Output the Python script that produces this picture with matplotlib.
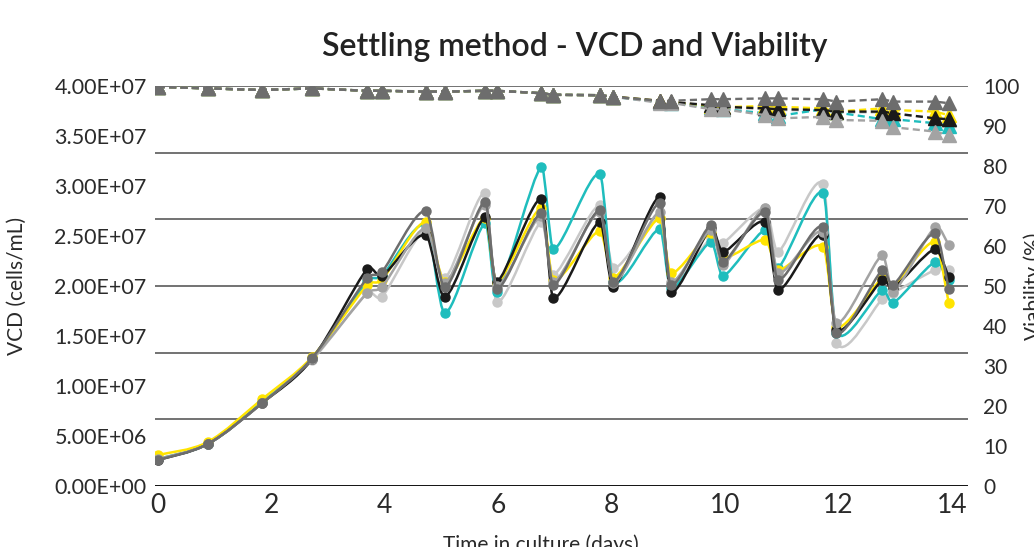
import numpy as np
import matplotlib
matplotlib.use("Agg")
import matplotlib.pyplot as plt
from matplotlib.path import Path
from matplotlib.patches import PathPatch
from matplotlib.ticker import FuncFormatter

plt.rcParams['font.family'] = ['Lato', 'DejaVu Sans']

# sampling times (days), pre/post settling pairs
days = [0, 0.88, 1.84, 2.72, 3.69, 3.95, 4.72, 5.06, 5.77, 5.97, 6.76, 6.97, 7.79, 8.03,
        8.85, 9.04, 9.75, 9.96, 10.71, 10.93, 11.73, 11.96, 12.77, 12.96, 13.70, 13.94]

# VCD in millions of cells/mL
vcd_lightgray = [2.7, 4.2, 8.3, 12.6, 19.3, 18.9, 25.6, 20.8, 29.3, 18.4, 26.4, 21.1, 28.1,
                 21.8, 26.8, 20.2, 24.8, 24.3, 27.8, 23.4, 30.2, 14.3, 18.7, 19.3, 21.6, 21.6]
vcd_teal = [2.7, 4.2, 8.4, 12.8, 20.5, 21.0, 26.1, 17.3, 26.3, 19.4, 31.9, 23.7, 31.2,
            20.4, 25.7, 19.8, 24.4, 21.0, 25.6, 21.8, 29.3, 15.3, 19.6, 18.3, 22.4, 20.6]
vcd_yellow = [3.1, 4.4, 8.7, 12.9, 20.1, 20.6, 26.4, 20.4, 26.8, 20.3, 27.8, 20.6, 25.5,
              20.8, 26.8, 21.3, 25.3, 22.8, 24.6, 21.6, 23.9, 15.9, 20.8, 20.0, 24.4, 18.3]
vcd_black = [2.6, 4.2, 8.3, 12.7, 21.7, 21.0, 25.1, 18.9, 26.9, 20.4, 28.7, 18.8, 26.4,
             19.9, 28.9, 19.4, 25.8, 23.4, 26.4, 19.6, 25.1, 15.6, 20.6, 19.8, 23.7, 20.9]
vcd_midgray = [2.7, 4.2, 8.3, 12.7, 19.3, 19.9, 25.8, 20.3, 28.1, 20.0, 27.0, 20.4, 27.4,
               20.3, 27.4, 20.4, 25.6, 22.1, 27.8, 21.3, 25.4, 16.3, 23.1, 19.4, 25.9, 24.1]
vcd_darkgray = [2.6, 4.2, 8.3, 12.8, 20.8, 21.4, 27.5, 19.9, 28.4, 19.7, 27.3, 20.1, 27.6,
                20.4, 28.3, 20.1, 26.1, 22.4, 27.4, 20.6, 25.9, 15.3, 21.6, 20.1, 25.3, 19.7]

# viability (%)
via_lightgray = [99.8, 99.4, 99.0, 99.4, 98.8, 98.8, 98.6, 98.6, 98.8, 98.8, 98.2, 97.8, 97.7,
                 97.3, 96.2, 96.0, 95.0, 94.6, 94.2, 94.0, 93.8, 93.4, 93.4, 93.0, 92.0, 91.6]
via_teal = [99.8, 99.4, 99.0, 99.4, 98.8, 98.8, 98.6, 98.6, 98.8, 98.8, 98.2, 97.8, 97.7,
            97.3, 96.0, 95.8, 94.8, 94.2, 93.2, 92.5, 94.2, 93.4, 91.7, 91.7, 90.7, 90.0]
via_yellow = [99.8, 99.4, 99.0, 99.4, 98.8, 98.8, 98.6, 98.6, 98.8, 98.8, 98.2, 97.8, 97.7,
              97.3, 96.3, 96.0, 95.0, 94.7, 95.0, 94.8, 94.4, 93.6, 94.4, 94.0, 93.6, 92.7]
via_black = [99.8, 99.4, 99.0, 99.4, 98.8, 98.8, 98.6, 98.6, 98.8, 98.8, 98.2, 97.8, 97.7,
             97.3, 96.3, 96.0, 95.2, 94.8, 94.4, 94.2, 94.0, 93.6, 93.6, 93.2, 91.9, 91.7]
via_midgray = [99.8, 99.4, 99.0, 99.4, 98.8, 98.8, 98.6, 98.6, 98.8, 98.8, 98.2, 97.8, 97.7,
               97.3, 95.8, 95.8, 94.2, 94.2, 92.7, 91.9, 92.3, 91.5, 91.3, 89.7, 88.6, 87.7]
via_darkgray = [99.8, 99.4, 99.0, 99.4, 98.8, 98.8, 98.6, 98.6, 98.8, 98.8, 98.2, 97.8, 97.7,
                97.3, 96.3, 96.3, 96.7, 96.7, 96.9, 96.9, 96.7, 96.1, 96.7, 96.1, 96.1, 95.7]

# (vcd, viability, colour) in drawing order
series = [
    (vcd_lightgray, via_lightgray, '#c8c8c8'),
    (vcd_teal, via_teal, '#1fbdbd'),
    (vcd_yellow, via_yellow, '#ffe400'),
    (vcd_black, via_black, '#1a1a1a'),
    (vcd_midgray, via_midgray, '#a3a3a3'),
    (vcd_darkgray, via_darkgray, '#6d6d6d'),
]


def smooth_path(x, y):
    # smoothed line: cubic bezier, catmull-rom tangents clamped so x stays monotone
    pts = np.column_stack([x, y])
    n = len(pts)
    verts = [pts[0]]
    codes = [Path.MOVETO]
    for i in range(n - 1):
        p0 = pts[max(i - 1, 0)]
        p1 = pts[i]
        p2 = pts[i + 1]
        p3 = pts[min(i + 2, n - 1)]
        w = (p2[0] - p1[0]) / 3.0
        d1 = (p2 - p0) / 6.0
        d2 = (p3 - p1) / 6.0
        if d1[0] > w:
            d1 = d1 * w / d1[0]
        if d2[0] > w:
            d2 = d2 * w / d2[0]
        verts += [p1 + d1, p2 - d2, p2]
        codes += [Path.CURVE4] * 3
    return Path(verts, codes)


fig = plt.figure(figsize=(10.34, 5.47), dpi=100)
ax = fig.add_axes([155 / 1034, 1 - 486 / 547, (968 - 155) / 1034, 400 / 547])
ax2 = ax.twinx()

ax.set_xlim(-0.05, 14.28)
ax.set_ylim(0, 4e7)
ax2.set_ylim(0, 100)

# gridlines
for k in range(1, 7):
    ax.axhline(4e7 * k / 6, color='#5a5a5a', lw=1.2, zorder=0)
ax.axhline(0, color='#111111', lw=1.4, zorder=0)

for i, (vcd, via, col) in enumerate(series):
    yv = np.array(vcd) * 1e6
    ax.add_patch(PathPatch(smooth_path(days, yv), fill=False, edgecolor=col, lw=1.8, zorder=2 + i))
    ax.plot(days, yv, 'o', color=col, ms=6.5, zorder=2 + i)
    ax2.plot(days, via, color=col, lw=1.7, dashes=(3, 1.8), marker='^', ms=10,
             zorder=2 + i)

for sp in list(ax.spines.values()) + list(ax2.spines.values()):
    sp.set_visible(False)

txt = '#2a2a2a'
ax.set_yticks(np.arange(0, 4.01e7, 5e6))
ax.yaxis.set_major_formatter(FuncFormatter(lambda v, p: '%.2E' % v))
ax.set_xticks(range(0, 15, 2))
ax2.set_yticks(range(0, 101, 10))
ax.tick_params(axis='both', length=0)
ax2.tick_params(axis='both', length=0)
for lab in ax.get_yticklabels():
    lab.set_fontsize(15.5)
    lab.set_color(txt)
for lab in ax2.get_yticklabels():
    lab.set_fontsize(15)
    lab.set_color(txt)
for lab in ax.get_xticklabels():
    lab.set_fontsize(19)
    lab.set_color(txt)
ax.tick_params(axis='y', pad=6)
ax2.tick_params(axis='y', pad=11)
ax.tick_params(axis='x', pad=5)

ax.set_ylabel('VCD (cells/mL)', fontsize=15, color=txt)
ax.yaxis.set_label_coords(-0.158, 0.5)
ax2.set_ylabel('Viability (%)', fontsize=15, color=txt)
ax2.yaxis.set_label_coords(1.068, 0.5)
ax.set_xlabel('Time in culture (days)', fontsize=15, color=txt)
ax.xaxis.set_label_coords(0.475, -0.12)
fig.text(575 / 1034, 1 - 47 / 547, 'Settling method - VCD and Viability', fontsize=23,
         fontweight='semibold', color='#222222', ha='center', va='center')

fig.savefig('out.png', dpi=100)
